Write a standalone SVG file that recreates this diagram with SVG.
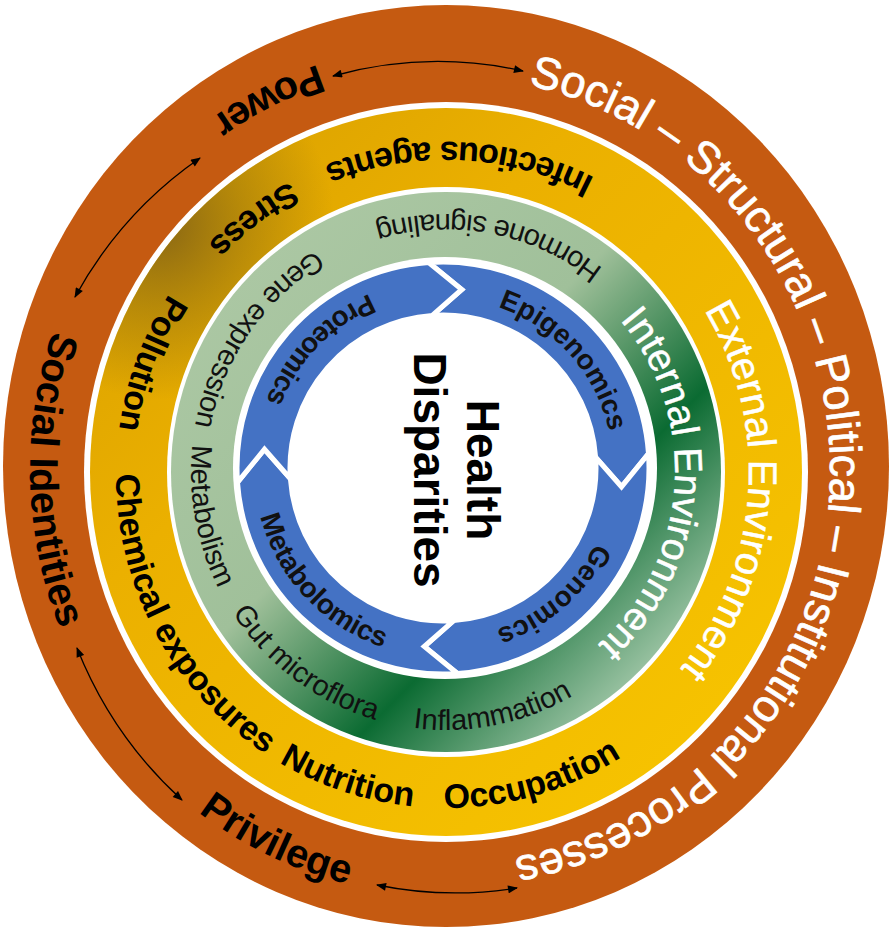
<svg xmlns="http://www.w3.org/2000/svg" width="894" height="930" viewBox="0 0 894 930">
<style>
text{font-family:"Liberation Sans",Arial,sans-serif}
.w44{font-size:45px;fill:#fff;stroke:#fff;stroke-width:0.7}
.b40{font-size:40px;font-weight:bold;fill:#000}
.y34{font-size:34px;font-weight:bold;fill:#000}
.g25{font-size:29px;fill:#111}
.bl27{font-size:28px;font-weight:bold;fill:#111}
.wenv{fill:#fff;stroke:#fff;stroke-width:0.5}
.seg{fill:#4472C4;stroke:#fff;stroke-width:5;stroke-linejoin:miter}
.arr{fill:none;stroke:#000;stroke-width:1.3;marker-start:url(#ah);marker-end:url(#ah)}
</style>
<defs>
<marker id="ah" viewBox="0 0 10 8" refX="9" refY="4" markerWidth="11" markerHeight="8" orient="auto-start-reverse" markerUnits="userSpaceOnUse"><path d="M0,0 L10,4 L0,8 z" fill="#000"/></marker>
<linearGradient id="gy" gradientUnits="userSpaceOnUse" x1="150" y1="200" x2="720" y2="780">
<stop offset="0" stop-color="#dca300"/><stop offset="0.3" stop-color="#ebb000"/><stop offset="1" stop-color="#f7c400"/></linearGradient>
<radialGradient id="gdark" gradientUnits="userSpaceOnUse" cx="160" cy="225" r="175">
<stop offset="0" stop-color="#7a5c18" stop-opacity="0.85"/><stop offset="0.5" stop-color="#8a6a12" stop-opacity="0.45"/><stop offset="1" stop-color="#8a6a12" stop-opacity="0"/></radialGradient>
<linearGradient id="gg" gradientUnits="userSpaceOnUse" x1="250" y1="270" x2="650" y2="668">
<stop offset="0" stop-color="#abc7a3"/><stop offset="0.42" stop-color="#a0c09a"/><stop offset="0.72" stop-color="#0b6b32"/><stop offset="1" stop-color="#9bc3a3"/></linearGradient>
<clipPath id="cy"><ellipse cx="446" cy="472" rx="356" ry="364"/></clipPath>
<path id="pA" d="M 446,76 A 384 394 0 1 1 446,864 A 384 394 0 1 1 446,76"/>
<path id="pB" d="M 862,470 A 416 426 0 1 0 30,470 A 416 426 0 1 0 862,470"/>
<path id="pC" d="M 776,475 A 330 333 0 1 0 116,475 A 330 333 0 1 0 776,475"/>
<path id="pD" d="M 446,162 A 303 310 0 1 1 446,782 A 303 310 0 1 1 446,162"/>
<path id="pE" d="M 701,472 A 255 258 0 1 0 191,472 A 255 258 0 1 0 701,472"/>
<path id="pF" d="M 446,239 A 229 232 0 1 1 446,703 A 229 232 0 1 1 446,239"/>
<path id="pG" d="M 443,298 A 170 170 0 1 1 443,638 A 170 170 0 1 1 443,298"/>
<path id="pH" d="M 632,468 A 189 189 0 1 0 254,468 A 189 189 0 1 0 632,468"/>
</defs>

<g id="ring-social">
<ellipse cx="446" cy="466" rx="443" ry="461" fill="#C55A11"/>
<ellipse cx="446" cy="472" rx="362" ry="370" fill="#fff"/>
<text class="w44" text-anchor="middle"><textPath href="#pA" startOffset="25.3%">Social – Structural – Political – Institutional Processes</textPath></text>
<text class="b40" text-anchor="middle"><textPath href="#pB" startOffset="32.2%">Power</textPath></text>
<text class="b40" text-anchor="middle"><textPath href="#pB" startOffset="50.4%">Social Identities</textPath></text>
<text class="b40" text-anchor="middle"><textPath href="#pB" startOffset="68.1%">Privilege</textPath></text>
</g>

<g id="ring-external">
<ellipse cx="446" cy="472" rx="356" ry="364" fill="url(#gy)"/>
<circle cx="160" cy="225" r="175" fill="url(#gdark)" clip-path="url(#cy)"/>
<ellipse cx="446" cy="472" rx="279" ry="285" fill="#fff"/>
<text class="wenv" font-size="40" text-anchor="middle"><textPath href="#pD" startOffset="26.1%">External Environment</textPath></text>
<text class="y34" text-anchor="middle"><textPath href="#pC" startOffset="24.3%">Infectious agents</textPath></text>
<text class="y34" text-anchor="middle"><textPath href="#pC" startOffset="35.3%">Stress</textPath></text>
<text class="y34" text-anchor="middle"><textPath href="#pC" startOffset="44.3%">Pollution</textPath></text>
<text class="y34" text-anchor="middle"><textPath href="#pC" startOffset="57.9%">Chemical exposures</textPath></text>
<text class="y34" text-anchor="middle"><textPath href="#pC" startOffset="70.0%">Nutrition</textPath></text>
<text class="y34" text-anchor="middle"><textPath href="#pC" startOffset="79.4%">Occupation</textPath></text>
</g>

<g id="ring-internal">
<ellipse cx="446" cy="472" rx="275" ry="280" fill="url(#gg)"/>
<ellipse cx="445" cy="468" rx="212" ry="211" fill="#fff"/>
<text class="wenv" font-size="39" text-anchor="middle"><textPath href="#pF" startOffset="26.1%">Internal Environment</textPath></text>
<text class="g25" text-anchor="middle"><textPath href="#pE" startOffset="22.0%">Hormone signaling</textPath></text>
<text class="g25" text-anchor="middle"><textPath href="#pE" startOffset="40.3%">Gene expression</textPath></text>
<text class="g25" text-anchor="middle"><textPath href="#pE" startOffset="52.9%">Metabolism</textPath></text>
<text class="g25" text-anchor="middle"><textPath href="#pE" startOffset="64.9%">Gut microflora</textPath></text>
<text class="g25" text-anchor="middle"><textPath href="#pE" startOffset="78.1%">Inflammation</textPath></text>
</g>

<g id="cycle-epigenomics">
<path class="seg" d="M 428.62,262.5 A 206 206 0 0 1 648.5,453.62 L 621.51,486.76 L 595.63,457.32 A 153 153 0 0 0 432.32,315.37 L 461.76,289.49 Z"/>
<text class="bl27" text-anchor="middle"><textPath href="#pG" startOffset="13.4%">Epigenomics</textPath></text>
</g>
<g id="cycle-genomics">
<path class="seg" d="M 648.5,453.62 A 206 206 0 0 1 457.38,673.5 L 424.24,646.51 L 453.68,620.63 A 153 153 0 0 0 595.63,457.32 L 621.51,486.76 Z"/>
<text class="bl27" text-anchor="middle"><textPath href="#pG" startOffset="38.6%">Genomics</textPath></text>
</g>
<g id="cycle-metabolomics">
<path class="seg" d="M 457.38,673.5 A 206 206 0 0 1 237.5,482.38 L 264.49,449.24 L 290.37,478.68 A 153 153 0 0 0 453.68,620.63 L 424.24,646.51 Z"/>
<text class="bl27" text-anchor="middle"><textPath href="#pH" startOffset="62.0%">Metabolomics</textPath></text>
</g>
<g id="cycle-proteomics">
<path class="seg" d="M 237.5,482.38 A 206 206 0 0 1 428.62,262.5 L 461.76,289.49 L 432.32,315.37 A 153 153 0 0 0 290.37,478.68 L 264.49,449.24 Z"/>
<text class="bl27" text-anchor="middle"><textPath href="#pH" startOffset="37.8%">Proteomics</textPath></text>
</g>

<g id="center">
<text font-size="46" font-weight="bold" text-anchor="middle" transform="translate(467,470) rotate(90)"><tspan x="0" y="0">Health</tspan><tspan x="0" y="53">Disparities</tspan></text>
</g>

<g id="connectors">
<path class="arr" d="M 333,76 A 400 410 0 0 1 523,71"/>
<path class="arr" d="M 200,158 A 400 410 0 0 0 75,297"/>
<path class="arr" d="M 77,648 A 400 410 0 0 0 182,800"/>
<path class="arr" d="M 377,885 A 400 410 0 0 0 517,888"/>
</g>
</svg>
